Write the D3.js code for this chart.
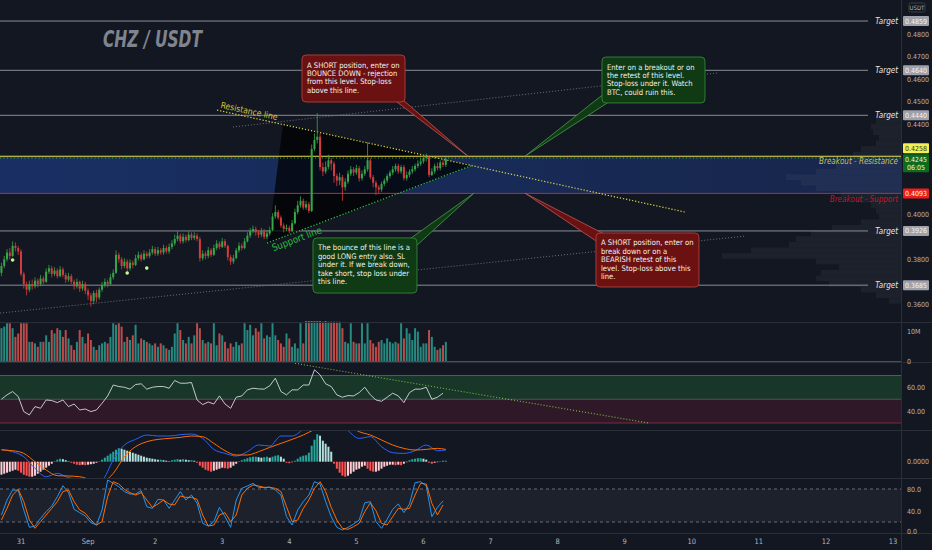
<!DOCTYPE html>
<html>
<head>
<meta charset="utf-8">
<script src="https://cdn.jsdelivr.net/npm/d3@7"></script>
<style>
  html, body { margin: 0; padding: 0; background: #131722; }
  svg { display: block; }
</style>
</head>
<body>
<script>
// ---- data ----
// hourly candles, first one is Aug 30 17:00 (hours counted from Aug 31 00:00)
var firstHour = -7;
// prices in 1e-4 USDT
var firstOpen = 3740;
var closes = [
  3770,3800,3830,3815,3860,3850,3835,3735,3690,3665,
  3690,3680,3705,3690,3715,3700,3745,3760,3735,3750,
  3725,3755,3730,3710,3725,3700,3680,3700,3670,3690,
  3660,3640,3615,3650,3630,3665,3685,3700,3690,3720,
  3740,3820,3800,3770,3790,3760,3785,3775,3805,3820,
  3800,3825,3815,3830,3845,3825,3840,3830,3850,3835,
  3855,3870,3890,3905,3880,3900,3885,3910,3895,3905,
  3890,3805,3825,3815,3840,3820,3850,3870,3855,3880,
  3860,3810,3790,3805,3840,3860,3850,3880,3905,3925,
  3935,3920,3910,3925,3900,3915,3930,3990,4010,3985,
  3950,3935,3940,3925,3960,4010,4040,4060,4030,4045,
  4015,4290,4330,4345,4210,4190,4210,4240,4225,4170,
  4150,4165,4120,4145,4180,4200,4185,4205,4160,4180,
  4200,4240,4165,4140,4120,4110,4135,4150,4170,4185,
  4200,4215,4190,4210,4160,4175,4190,4200,4215,4225,
  4235,4250,4255,4175,4190,4215,4205,4230,4220,4245
];
var highs = [
  3785,3815,3845,3850,3880,3875,3860,3845,3745,3700,
  3705,3710,3720,3715,3730,3725,3760,3775,3770,3765,
  3760,3770,3765,3740,3740,3735,3710,3715,3705,3705,
  3700,3670,3650,3660,3665,3675,3700,3715,3710,3735,
  3755,3840,3830,3810,3805,3800,3800,3795,3820,3835,
  3830,3840,3835,3845,3860,3855,3855,3850,3865,3860,
  3870,3885,3910,3925,3915,3915,3910,3925,3920,3920,
  3915,3900,3840,3835,3855,3850,3865,3885,3880,3895,
  3890,3865,3820,3820,3850,3875,3870,3895,3920,3940,
  3950,3945,3930,3940,3935,3930,3945,4005,4040,4020,
  3995,3960,3955,3950,3975,4025,4060,4080,4070,4060,
  4055,4310,4360,4450,4360,4230,4235,4265,4250,4235,
  4180,4185,4175,4160,4195,4215,4210,4220,4215,4195,
  4215,4320,4250,4175,4150,4130,4145,4160,4180,4195,
  4215,4225,4225,4220,4220,4190,4200,4215,4225,4240,
  4250,4260,4270,4260,4205,4225,4230,4240,4245,4255
];
var lows = [
  3725,3760,3790,3800,3810,3835,3820,3725,3670,3640,
  3655,3665,3670,3675,3680,3690,3695,3735,3720,3725,
  3715,3720,3720,3695,3700,3690,3665,3670,3655,3660,
  3645,3620,3590,3600,3610,3620,3655,3675,3675,3685,
  3710,3735,3785,3755,3760,3745,3750,3760,3770,3795,
  3790,3795,3805,3805,3820,3815,3815,3820,3820,3825,
  3825,3845,3860,3880,3870,3870,3875,3880,3885,3885,
  3880,3790,3795,3800,3805,3810,3815,3840,3845,3850,
  3850,3795,3775,3780,3800,3830,3840,3845,3875,3895,
  3915,3905,3895,3900,3890,3890,3905,3925,3980,3975,
  3940,3920,3925,3915,3920,3955,4000,4030,4020,4020,
  4005,4010,4280,4315,4195,4170,4180,4200,4195,4140,
  4125,4130,4060,4105,4135,4170,4170,4175,4145,4150,
  4170,4190,4155,4120,4085,4090,4100,4125,4140,4160,
  4175,4190,4180,4180,4150,4150,4165,4180,4190,4205,
  4215,4225,4235,4165,4170,4180,4195,4195,4210,4210
];
// volume, millions
var volumes = [
  10.9,11.4,12.5,12.5,10.9,8.1,9.2,12.5,12.5,12.5,
  6.5,6.5,6,4.9,6.5,6.5,8.6,6.5,10.3,9.2,10.9,
  10.3,8.1,10.3,7.6,5.4,3.9,6.5,10.3,8.1,6,
  9.2,7.1,4.9,3.9,5.4,6,6.5,6,8.1,12.5,12,
  12.5,11.4,6.5,8.1,7.1,8.6,12,6,7.6,7.1,6.5,
  6,5.4,6,4.9,6,5.4,4.4,3.9,4.9,9.2,12.5,
  10.3,7.1,6,8.1,6,8.6,12.5,10.9,7.1,6,6.5,
  6,12.5,5.4,9.2,8.6,6.5,4.4,6,4.9,6.5,5.4,
  6,12.5,10.3,12,8.6,10.9,9.8,12.5,7.6,8.6,8.1,
  12.5,8.6,7.1,6,4.9,9.2,7.6,4.9,6,4.4,12.5,
  6,14,15,16,18,16,14,13,14,13,13,
  13,13,13,10.9,6.5,6,12.5,6.5,6,6,12.5,
  6,12.5,7.1,6,4.9,6.5,7.1,6,7.6,6.5,6,
  6.5,6,12.5,7.6,10.9,9.2,7.1,10.9,9.8,4.9,6,
  6,10.3,8.1,4.9,3.9,4.4,5.4,6.5
];
// MACD histogram per candle, 1e-4 units
var macdHist = [
  -13,-12,-11,-10,-9,-8,-9,-11,-13,-14,
  -15,-15,-14,-12,-10,-8,-6,-4,-2,0.5,
  2,3,2.5,1.5,0.5,-1,-2,-3,-3.5,-3,
  -3.5,-3,-2.5,-2,-1,0.5,2,4,6,8,
  10,12,13.5,13,12,11,10,9,8,7,
  6,5,4,3.5,3,2.5,2,2,1.5,1,
  0.5,1.5,2,2.5,2,2.5,2,1.5,1.5,1,
  -1,-4,-6,-8,-9,-10,-9,-8,-7,-6,
  -6.5,-7,-6,-4,-2,0.5,1.5,2.5,3.5,4.5,
  5,5,4.5,4,4.5,5,4,5,6,6.5,
  5,3,-1,-1.5,-0.5,1,3,5,6,6.5,
  9,16,22,27.5,26,21,18,15,10,-2,
  -7,-11,-14,-15,-14,-12,-10,-8,-7,-5,
  -4,-7,-9,-10,-10,-9,-7,-5,-4,-3,
  -3,-3.5,-3,-3.5,-2,-0.5,1.5,2.5,3,3.5,
  3.5,3,2,-1,-2,-1,-0.5,0.5,1,1
];
// MACD and signal, every 4th candle (last one is the final candle), 1e-4 units
var macdLine = [12.3,10,5,-6.7,-15,-11.7,-16,-18,-20,-18,1.7,16.7,22.3,26.7,25.7,25.7,27,27.7,23.3,12.3,
  8.3,5.7,10,16.7,15.7,25.7,25.7,32.3,40,45,41.7,31,23.3,25,15,9,8.3,11,16.7,11,11.7];
var signalLine = [11.7,11,8.3,0,-8.3,-14,-14.3,-15,-18,-20,-11.7,5,15,20,22.3,23.3,24.3,25.7,25,18.3,
  11,6.7,6.7,10,14.3,18.3,22.3,26.7,32.3,38.3,41.7,36.7,30,26.7,21.7,16.7,13.3,11.7,12.3,13.3,12.3];
// RSI and stochastic, every 2nd candle
var rsi = [
  50,53.7,56.5,52.3,39.6,36.8,43.8,42.4,49.4,48.9,
  47.2,49.4,43.8,46,41,41.8,39.6,41,46.6,52.8,
  62,60.7,60.1,58.5,62.4,63,58.5,60.1,60.7,60.7,
  59.3,65.8,63.5,63.5,64.1,49.4,45.5,47.7,46,52.8,
  46,42.4,51.7,52.8,57.9,59.3,58.7,58.5,61.3,67.7,
  56.5,53.7,57.9,57.9,62,62,74.8,70.6,63,60.7,
  53.7,51.7,53.1,52.8,55.6,60.1,53.7,49.4,48.3,51.7,
  55.1,52.8,47.2,55.6,58.5,58.5,60.1,50,51.7,55.1
];
var stochK = [
  32.7,60,78,78,41.8,10.3,12.7,26.7,38.8,49,
  66,86,73.3,43,37,31,18.8,14.5,41.8,96.4,
  90.3,84.2,75.2,70.9,70.9,77,47.9,44.8,61.2,60,
  44.8,60,75.2,60,69,54,17.6,12.7,20.6,46.7,
  29.7,10.3,60,81.2,85.5,90.3,83,82.4,83.6,78.2,
  69,29.7,14.5,41.8,57,69,93.3,89,57,29.7,
  10.3,5.5,10.3,16.4,23.6,55,57,20.6,8.5,24.8,
  43,52.7,37,52.7,91.5,93.3,85.5,29.7,46.7,58.2
];
var stochD = [
  23.6,44.8,69,79.4,57,23.6,8.5,20.6,32.7,44.8,
  57,75.2,78.2,57,41.8,35.8,23.6,14.5,20.6,66,
  93.3,89,79.4,73.3,69,73.3,60,46.7,52.7,60,
  52.7,51,67.3,64.8,64.8,61.2,32.7,12.7,14.5,32.7,
  37,20.6,32.7,69,81.2,87.3,85.5,83,83,81.2,
  75.2,47.9,20.6,23.6,44.8,60,81.2,93.3,75.2,46.7,
  23.6,8.5,6.7,11.5,17.6,38.8,55,40.6,17.6,14.5,
  29.7,44.8,43,44.8,69,90.3,89,54,32.7,51
];
// signal dots under candles
var dotK = [4, 45, 52];
var dotP = [0.3797, 0.3739, 0.3761];

// volume profile (price bins of 0.0025)
var profilePrices = [0.4440,0.4415,0.4390,0.4365,0.4340,0.4315,0.4290,0.4265,0.4240,0.4215,0.4190,0.4165,
  0.4140,0.4115,0.4090,0.4065,0.4040,0.4015,0.3990,0.3965,0.3940,0.3915,0.3890,0.3865,0.3840,0.3815,
  0.3790,0.3765,0.3740,0.3715,0.3690,0.3665,0.3640,0.3615];
var profileVol = [20,25,30,28,22,25,40,48,52,65,85,115,100,85,60,45,30,25,22,40,69,90,105,112,150,179,
  85,62,80,85,72,40,25,12];

// levels
var targets = [0.4859, 0.4640, 0.4440, 0.3926, 0.3685];
var resistanceLevel = 0.4258, supportLevel = 0.4093, dotLevel = 0.4250;
var lastPrice = 0.4245, countdown = '06:05';

// drawings, [day since Aug 31, price]
var upperChannel = [[3.160, 0.4388], [10.376, 0.4628]];
var lowerChannel = [[-0.313, 0.3561], [10.793, 0.3903]];
var resistanceLine = [[2.922, 0.4463], [9.899, 0.4010]];
var supportLine = [[3.667, 0.3872], [6.738, 0.4219]];
var triangle = [[3.906, 0.4401], [6.738, 0.4217], [3.682, 0.3872]];
var rsiTrend = [[4.085, 80.3], [9.377, 29.8]];

var notes = [
  { c: 'red', box: [[4.189, 0.4708], [5.725, 0.4499]], tip: [6.664, 0.4258], corner: 'br',
    lines: ['A SHORT position, enter on', 'BOUNCE DOWN - rejection', 'from this level. Stop-loss', 'above this line.'] },
  { c: 'green', box: [[8.661, 0.4699], [10.197, 0.4495]], tip: [7.513, 0.4258], corner: 'bl',
    lines: ['Enter on a breakout or on', 'the retest of this level.', 'Stop-loss under it. Watch', 'BTC, could ruin this.'] },
  { c: 'green', box: [[4.353, 0.3895], [5.903, 0.3650]], tip: [6.753, 0.4094], corner: 'tr',
    lines: ['The bounce of this line is a', 'good LONG entry also. SL', 'under it. If we break down,', 'take short, stop loss under', 'this line.'] },
  { c: 'red', box: [[8.572, 0.3917], [10.107, 0.3677]], tip: [7.513, 0.4094], corner: 'tl',
    lines: ['A SHORT position, enter on', 'break down or on a', 'BEARISH retest of this', 'level. Stop-loss above this', 'line.'] }
];

// axes
var priceTicks = [0.36, 0.37, 0.38, 0.39, 0.40, 0.41, 0.42, 0.43, 0.44, 0.45, 0.46, 0.47, 0.48];
var dayTicks = [0, 1, 2, 3, 4, 5, 6, 7, 8, 9, 10, 11, 12, 13];
var dayLabels = ['31', 'Sep', '2', '3', '4', '5', '6', '7', '8', '9', '10', '11', '12', '13'];

// ---- layout ----
var W = 932, H = 550, plotR = 901;
var FONT = "'Liberation Sans Narrow','DejaVu Sans Condensed','Liberation Sans',Arial,sans-serif";
var panes = { main: [0, 321], vol: [321, 362], rsi: [362, 430], macd: [430, 478], stoch: [478, 533] };

var x = d3.scaleLinear().domain([0, 13]).range([21, 893]);
var y = d3.scaleLinear().domain([0.36, 0.48]).range([304.3, 34.3]);
var yVol = d3.scaleLinear().domain([0, 10]).range([362, 331]);
var yRsi = d3.scaleLinear().domain([30, 70]).range([423, 375.5]);
var yMacd = d3.scaleLinear().domain([0, 10]).range([461.7, 451.7]);
var yStoch = d3.scaleLinear().domain([20, 80]).range([522, 489]);
var yProfile = d3.scaleLinear().domain([0, 179]).range([0, 179]);

function tOf(k) { return (firstHour + k) / 24; }

var svg = d3.select('body').append('svg')
  .attr('width', W).attr('height', H)
  .style('font-family', FONT);

svg.append('rect').attr('width', W).attr('height', H).attr('fill', '#131722');

var defs = svg.append('defs');
Object.keys(panes).forEach(function(p) {
  defs.append('clipPath').attr('id', 'clip-' + p).append('rect')
    .attr('x', 0).attr('y', panes[p][0]).attr('width', plotR).attr('height', panes[p][1] - panes[p][0]);
});
var band = defs.append('linearGradient').attr('id', 'band');
band.append('stop').attr('offset', '0%').attr('stop-color', 'rgb(32,76,180)').attr('stop-opacity', 0.45);
band.append('stop').attr('offset', '100%').attr('stop-color', 'rgb(32,76,180)').attr('stop-opacity', 0.28);

var candles = closes.map(function(c, k) {
  return {
    k: k, t: tOf(k),
    o: (k === 0 ? firstOpen : closes[k - 1]) / 1e4,
    h: highs[k] / 1e4, l: lows[k] / 1e4, c: c / 1e4, v: volumes[k]
  };
});
var upC = '#36a64a', dnC = '#d43c3c';

// ---- main pane ----
var main = svg.append('g').attr('clip-path', 'url(#clip-main)');

main.append('rect')
  .attr('x', 0).attr('width', plotR)
  .attr('y', y(resistanceLevel)).attr('height', y(supportLevel) - y(resistanceLevel))
  .attr('fill', 'url(#band)');

main.selectAll('.prof').data(profilePrices).enter().append('rect')
  .attr('x', function(p, i) { return plotR - yProfile(profileVol[i]); })
  .attr('width', function(p, i) { return yProfile(profileVol[i]); })
  .attr('y', function(p) { return y(p + 0.00125); })
  .attr('height', function(p) { return y(p - 0.00125) - y(p + 0.00125); })
  .attr('fill', 'rgba(150,154,166,0.08)');

main.selectAll('.target').data(targets).enter().append('line')
  .attr('x1', 0).attr('x2', 868)
  .attr('y1', function(d) { return y(d); }).attr('y2', function(d) { return y(d); })
  .attr('stroke', '#8a8d96').attr('stroke-width', 1);

main.append('path')
  .attr('d', d3.line().x(function(d) { return x(d[0]); }).y(function(d) { return y(d[1]); })(triangle) + 'Z')
  .attr('fill', 'rgba(0,0,0,0.72)');

function seg(g, pts, sy, color, dash, w) {
  g.append('line')
    .attr('x1', x(pts[0][0])).attr('y1', sy(pts[0][1]))
    .attr('x2', x(pts[1][0])).attr('y2', sy(pts[1][1]))
    .attr('stroke', color).attr('stroke-width', w || 1)
    .attr('stroke-dasharray', dash);
}
seg(main, upperChannel, y, '#6d707a', '1,2');
seg(main, lowerChannel, y, '#6d707a', '1,2');

main.append('line').attr('x1', 0).attr('x2', plotR)
  .attr('y1', y(resistanceLevel)).attr('y2', y(resistanceLevel))
  .attr('stroke', '#e6dd4a').attr('stroke-width', 1);
main.append('line').attr('x1', 0).attr('x2', plotR)
  .attr('y1', y(dotLevel)).attr('y2', y(dotLevel))
  .attr('stroke', '#3fae3f').attr('stroke-width', 1).attr('stroke-dasharray', '1,2.5');
main.append('line').attr('x1', 0).attr('x2', plotR)
  .attr('y1', y(supportLevel)).attr('y2', y(supportLevel))
  .attr('stroke', '#c2283d').attr('stroke-width', 1);

seg(main, resistanceLine, y, '#d9d04a', '1.3,1.8', 1.2);
seg(main, supportLine, y, '#33c24a', '1.3,1.8', 1.2);

// candles
var cg = main.append('g');
cg.selectAll('.wick').data(candles).enter().append('line')
  .attr('x1', function(d) { return x(d.t); }).attr('x2', function(d) { return x(d.t); })
  .attr('y1', function(d) { return y(d.h); }).attr('y2', function(d) { return y(d.l); })
  .attr('stroke', function(d) { return d.c >= d.o ? upC : dnC; }).attr('stroke-width', 0.8);
cg.selectAll('.body').data(candles).enter().append('rect')
  .attr('x', function(d) { return x(d.t) - 1; }).attr('width', 2)
  .attr('y', function(d) { return y(Math.max(d.o, d.c)); })
  .attr('height', function(d) { return Math.max(0.8, Math.abs(y(d.o) - y(d.c))); })
  .attr('fill', function(d) { return d.c >= d.o ? upC : dnC; });

main.selectAll('.dot').data(dotK).enter().append('circle')
  .attr('cx', function(k) { return x(tOf(k)); })
  .attr('cy', function(k, i) { return y(dotP[i]); })
  .attr('r', 1.8).attr('fill', '#c8f78f');

// line labels
function alongLabel(pts, atT, dy, txt, color, size) {
  var ax = x(pts[0][0]), ay = y(pts[0][1]), bx = x(pts[1][0]), by = y(pts[1][1]);
  var ang = Math.atan2(by - ay, bx - ax) * 180 / Math.PI;
  var px = x(atT), py = ay + (px - ax) * (by - ay) / (bx - ax);
  main.append('text')
    .attr('transform', 'translate(' + px + ',' + py + ') rotate(' + ang + ')')
    .attr('y', dy).attr('fill', color).attr('font-size', size).text(txt);
}
alongLabel(resistanceLine, 2.96, -3, 'Resistance line', '#d6c238', 8.6);
alongLabel(supportLine, 3.71, 10, 'Support line', '#27c23f', 9.6);

main.selectAll('.tlab').data(targets).enter().append('text')
  .attr('x', 898).attr('y', function(d) { return y(d) + 2.8; })
  .attr('text-anchor', 'end').attr('font-size', 8).attr('font-style', 'italic')
  .attr('fill', '#e6e6e6').text('Target');
main.append('text').attr('x', 898).attr('y', y(resistanceLevel) + 7.5)
  .attr('text-anchor', 'end').attr('font-size', 8).attr('font-style', 'italic')
  .attr('fill', '#c9c25a').text('Breakout - Resistance');
main.append('text').attr('x', 898).attr('y', y(supportLevel) + 9)
  .attr('text-anchor', 'end').attr('font-size', 8).attr('font-style', 'italic')
  .attr('fill', '#c0182a').text('Breakout - Support');

main.append('text').attr('x', 103).attr('y', 47)
  .attr('font-size', 23).attr('font-style', 'italic').attr('font-weight', 'bold')
  .attr('textLength', 99).attr('lengthAdjust', 'spacingAndGlyphs')
  .attr('fill', '#80848f').text('CHZ / USDT');

// callouts
var noteCol = {
  red: { fill: '#6b1111', stroke: '#a83a3a', tail: '#b85a5a' },
  green: { fill: '#0f3a14', stroke: '#2f7d34', tail: '#4a9a4e' }
};
notes.forEach(function(n) {
  var x0 = x(n.box[0][0]), y0 = y(n.box[0][1]), x1 = x(n.box[1][0]), y1 = y(n.box[1][1]);
  var base;
  if (n.corner === 'br') base = [[x1 - 12, y1 - 3], [x1 - 3, y1 - 3]];
  if (n.corner === 'bl') base = [[x0 + 3, y1 - 10], [x0 + 10, y1 - 3]];
  if (n.corner === 'tr') base = [[x1 - 10, y0 + 3], [x1 - 3, y0 + 10]];
  if (n.corner === 'tl') base = [[x0 + 3, y0 + 10], [x0 + 12, y0 + 3]];
  var tip = [x(n.tip[0]), y(n.tip[1])];
  var col = noteCol[n.c];
  main.append('path')
    .attr('d', 'M' + base[0] + 'L' + tip + 'L' + base[1] + 'Z')
    .attr('fill', col.fill).attr('stroke', col.tail).attr('stroke-width', 0.8);
  main.append('rect')
    .attr('x', x0).attr('y', y0).attr('width', x1 - x0).attr('height', y1 - y0)
    .attr('rx', 4).attr('fill', col.fill).attr('stroke', col.stroke).attr('stroke-width', 1);
  var tx = main.append('text').attr('font-size', 7.6).attr('fill', '#f2f2f2');
  n.lines.forEach(function(l, i) {
    tx.append('tspan').attr('x', x0 + 5).attr('y', y0 + 12.5 + i * 8.4).text(l);
  });
});

// ---- volume pane ----
var vol = svg.append('g').attr('clip-path', 'url(#clip-vol)');
vol.selectAll('rect').data(candles).enter().append('rect')
  .attr('x', function(d) { return x(d.t) - 1; }).attr('width', 2)
  .attr('y', function(d) { return yVol(d.v); })
  .attr('height', function(d) { return yVol(0) - yVol(d.v); })
  .attr('fill', function(d) { return d.c >= d.o ? '#268a80' : '#bb4c4a'; });

// ---- RSI pane ----
var rg = svg.append('g').attr('clip-path', 'url(#clip-rsi)');
rg.append('rect').attr('x', 0).attr('width', plotR).attr('y', yRsi(70)).attr('height', yRsi(50) - yRsi(70))
  .attr('fill', 'rgba(40,140,60,0.28)');
rg.append('rect').attr('x', 0).attr('width', plotR).attr('y', yRsi(50)).attr('height', yRsi(30) - yRsi(50))
  .attr('fill', 'rgba(150,30,60,0.22)');
[[70, '#4f5d54'], [50, '#4e525c'], [30, '#7a2d3e']].forEach(function(l) {
  rg.append('line').attr('x1', 0).attr('x2', plotR).attr('y1', yRsi(l[0])).attr('y2', yRsi(l[0]))
    .attr('stroke', l[1]).attr('stroke-width', 1);
});
rg.append('path').datum(rsi)
  .attr('d', d3.line().x(function(v, i) { return x(tOf(i * 2)); }).y(function(v) { return yRsi(v); }))
  .attr('fill', 'none').attr('stroke', '#d6d8de').attr('stroke-width', 0.9);
seg(rg, rsiTrend, yRsi, '#7cc342', '1,2', 1.1);

// ---- MACD pane ----
var mg = svg.append('g').attr('clip-path', 'url(#clip-macd)');
mg.selectAll('rect').data(macdHist).enter().append('rect')
  .attr('x', function(h, k) { return x(tOf(k)) - 1; }).attr('width', 2)
  .attr('y', function(h) { return Math.min(yMacd(h), yMacd(0)); })
  .attr('height', function(h) { return Math.abs(yMacd(h) - yMacd(0)); })
  .attr('fill', function(h, k) {
    var prev = k ? macdHist[k - 1] : h - 1;
    if (h >= 0) return h >= prev ? '#26a69a' : '#b2dfdb';
    return h >= prev ? '#ffcdd2' : '#ff5252';
  });
function macdPath(arr) {
  return d3.line()
    .x(function(v, i) { return x(tOf(Math.min(i * 4, closes.length - 1))); })
    .y(function(v) { return yMacd(v); })
    .curve(d3.curveMonotoneX)(arr);
}
mg.append('path').attr('d', macdPath(macdLine)).attr('fill', 'none').attr('stroke', '#2962ff').attr('stroke-width', 1);
mg.append('path').attr('d', macdPath(signalLine)).attr('fill', 'none').attr('stroke', '#ff6d00').attr('stroke-width', 1);

// ---- Stoch pane ----
var sg = svg.append('g').attr('clip-path', 'url(#clip-stoch)');
sg.append('rect').attr('x', 0).attr('width', plotR).attr('y', yStoch(80)).attr('height', yStoch(20) - yStoch(80))
  .attr('fill', 'rgba(120,123,134,0.1)');
[80, 20].forEach(function(v) {
  sg.append('line').attr('x1', 0).attr('x2', plotR).attr('y1', yStoch(v)).attr('y2', yStoch(v))
    .attr('stroke', '#6a6d77').attr('stroke-dasharray', '3,3');
});
function stochPath(arr) {
  return d3.line().x(function(v, i) { return x(tOf(i * 2)); }).y(function(v) { return yStoch(v); })(arr);
}
sg.append('path').attr('d', stochPath(stochK)).attr('fill', 'none').attr('stroke', '#2196f3').attr('stroke-width', 1);
sg.append('path').attr('d', stochPath(stochD)).attr('fill', 'none').attr('stroke', '#ff6d00').attr('stroke-width', 1);

// ---- separators ----
[panes.vol[0] + 1, panes.rsi[0], panes.macd[0], panes.stoch[0], panes.stoch[1]].forEach(function(v) {
  svg.append('line').attr('x1', 0).attr('x2', W).attr('y1', v + 0.5).attr('y2', v + 0.5)
    .attr('stroke', '#2a2e39').attr('stroke-width', 1);
});
svg.append('line').attr('x1', 0).attr('x2', plotR).attr('y1', 361.5).attr('y2', 361.5)
  .attr('stroke', '#4a4e59');
svg.append('line').attr('x1', plotR + 0.5).attr('x2', plotR + 0.5).attr('y1', 0).attr('y2', H)
  .attr('stroke', '#2a2e39');

// ---- right axis ----
var boxCenters = targets.map(function(p) { return y(p); })
  .concat([y(resistanceLevel) - 8, y(lastPrice) + 4, y(supportLevel)]);
var ax = svg.append('g').attr('font-size', 7).attr('fill', '#b2b5be');
function axText(yy, t) { ax.append('text').attr('x', 907).attr('y', yy + 2.5).text(t); }
priceTicks.forEach(function(p) {
  var clash = boxCenters.some(function(c, i) { return Math.abs(c - y(p)) < (i === 6 ? 13 : 9); });
  if (!clash) axText(y(p), p.toFixed(4));
});
axText(yVol(10), '10M');
axText(yRsi(60), '60.00');
axText(yRsi(40), '40.00');
axText(yVol(0) - 1, '0');
axText(yMacd(0), '0.0000');
axText(yStoch(80), '80.0');
axText(yStoch(40), '40.0');
axText(yStoch(0) - 2, '0.0');

function box(yc, t, fill, color, h) {
  h = h || 10;
  svg.append('rect').attr('x', 903).attr('y', yc - h / 2).attr('width', 26).attr('height', h)
    .attr('rx', 1).attr('fill', fill);
  var tx = svg.append('text').attr('font-size', 7).attr('fill', color).attr('text-anchor', 'middle');
  if (typeof t === 'string') t = [t];
  t.forEach(function(s, i) {
    tx.append('tspan').attr('x', 916).attr('y', yc + 2.5 - (t.length - 1) * 4 + i * 8).text(s);
  });
}
targets.forEach(function(p) { box(y(p), p.toFixed(4), '#9ea1aa', '#f4f4f4'); });
box(y(resistanceLevel) - 8, resistanceLevel.toFixed(4), '#f5ee55', '#3b3a10');
box(y(lastPrice) + 4, [lastPrice.toFixed(4), countdown], '#0d6b1c', '#f0f0f0', 18);
box(y(supportLevel), supportLevel.toFixed(4), '#f01c1c', '#ffffff');

svg.append('rect').attr('x', 909).attr('y', 3).attr('width', 16).attr('height', 9)
  .attr('rx', 1.5).attr('fill', 'none').attr('stroke', '#3a3e49');
svg.append('text').attr('x', 917).attr('y', 10).attr('text-anchor', 'middle')
  .attr('font-size', 6).attr('fill', '#b2b5be').text('USDT');

// ---- time axis ----
svg.selectAll('.day').data(dayTicks).enter().append('text')
  .attr('x', function(d) { return x(d); }).attr('y', 544)
  .attr('text-anchor', 'middle').attr('font-size', 7.5).attr('fill', '#b2b5be')
  .text(function(d, i) { return dayLabels[i]; });
</script>
</body>
</html>
